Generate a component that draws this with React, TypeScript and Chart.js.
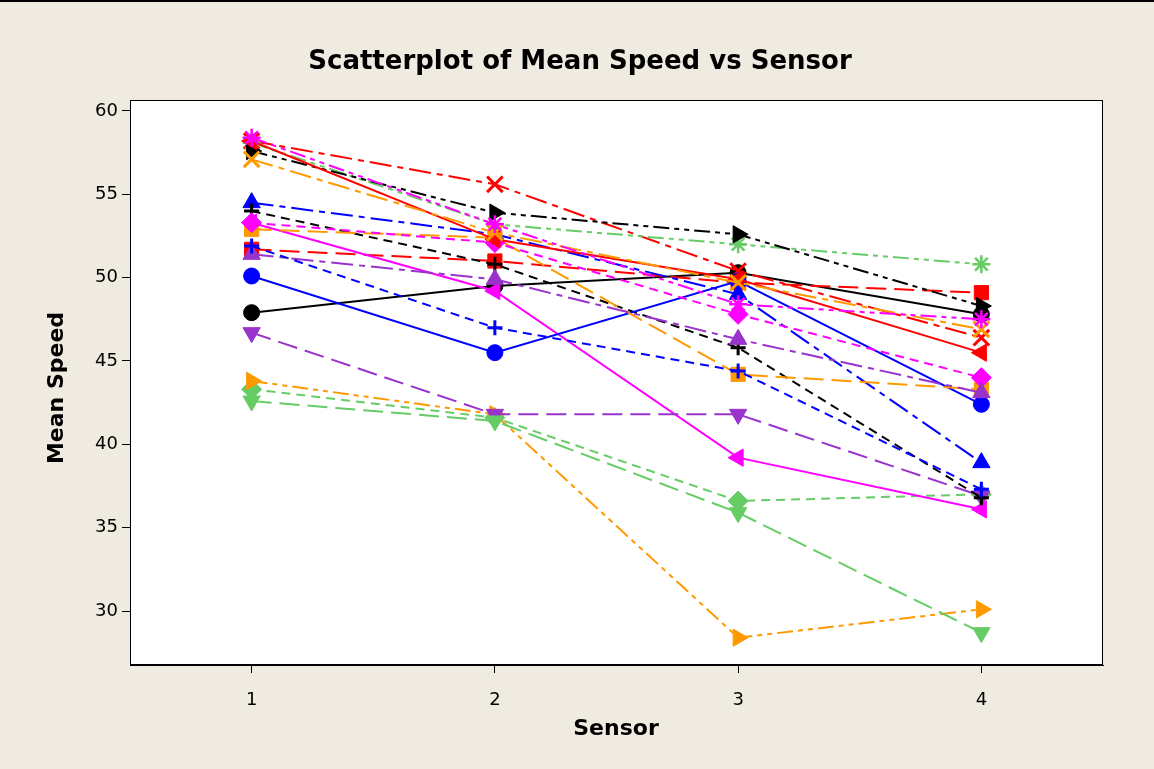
import React, { useEffect, useRef } from "react";
import { Chart, registerables } from "chart.js";

Chart.register(...registerables);

// ---- data ----
const sensors = [1, 2, 3, 4];
const yTickValues = [30, 35, 40, 45, 50, 55, 60];
const xTickValues = [1, 2, 3, 4];

const g01 = [47.9, 49.5, 50.3, 47.8];
const g02 = [51.7, 51.0, 49.7, 49.1];
const g03 = [43.3, 41.6, 36.6, 37.0];
const g04 = [54.5, 52.6, 49.0, 38.9];
const g05 = [43.8, 41.8, 28.4, 30.1];
const g06 = [53.3, 49.2, 39.2, 36.1];
const g07 = [46.7, 41.8, 41.8, 36.9];
const g08 = [54.0, 50.8, 45.8, 36.8];
const g09 = [58.2, 55.6, 50.4, 46.4];
const g10 = [58.1, 53.2, 52.0, 50.8];
const g11 = [50.1, 45.5, 49.8, 42.4];
const g12 = [52.9, 52.4, 44.2, 43.3];
const g13 = [53.3, 52.1, 47.8, 44.0];
const g14 = [51.4, 49.9, 46.3, 43.1];
const g15 = [57.6, 53.9, 52.6, 48.3];
const g16 = [58.2, 52.3, 49.9, 45.5];
const g17 = [42.6, 41.4, 35.9, 28.7];
const g18 = [51.9, 47.0, 44.4, 37.3];
const g19 = [57.1, 52.7, 49.7, 46.9];
const g20 = [58.4, 53.2, 48.4, 47.5];

const groups = [g01, g02, g03, g04, g05, g06, g07, g08, g09, g10, g11, g12, g13, g14, g15, g16, g17, g18, g19, g20];

// ---- style cycles (Minitab-like defaults) ----
const colorCycle = ["#000000", "#FF0000", "#66CC66", "#0000FF", "#FF9900", "#FF00FF", "#9933CC"];
const symbolCycle = ["circle", "square", "diamond", "triUp", "triRight", "triLeft", "triDown", "plus", "x", "asterisk"];
const dashCycle = [[], [20, 8], [9, 6], [22, 6, 6, 6], [16, 5, 5, 5, 5, 5]];

function symbolStyle(sym: string) {
  switch (sym) {
    case "circle": return { pointStyle: "circle", radius: 8, rotation: 0, bw: 1 };
    case "square": return { pointStyle: "rect", radius: 10, rotation: 0, bw: 1 };
    case "diamond": return { pointStyle: "rectRot", radius: 10, rotation: 0, bw: 1 };
    case "triUp": return { pointStyle: "triangle", radius: 10, rotation: 0, bw: 1 };
    case "triRight": return { pointStyle: "triangle", radius: 10, rotation: 90, bw: 1 };
    case "triLeft": return { pointStyle: "triangle", radius: 10, rotation: 270, bw: 1 };
    case "triDown": return { pointStyle: "triangle", radius: 10, rotation: 180, bw: 1 };
    case "plus": return { pointStyle: "cross", radius: 7.5, rotation: 0, bw: 3 };
    case "x": return { pointStyle: "crossRot", radius: 11, rotation: 0, bw: 3 };
    default: return { pointStyle: "star", radius: 9, rotation: 0, bw: 2.5 };
  }
}

const FONT = "'DejaVu Sans', Verdana, sans-serif";

const framePlugin = {
  id: "frame",
  beforeDraw(chart: any) {
    const { ctx, chartArea, width, height } = chart;
    ctx.save();
    ctx.fillStyle = "#EFEBE1";
    ctx.fillRect(0, 0, width, height);
    ctx.fillStyle = "#000000";
    ctx.fillRect(0, 0, width, 2);
    ctx.fillStyle = "#FFFFFF";
    ctx.fillRect(chartArea.left, chartArea.top, chartArea.right - chartArea.left, chartArea.bottom - chartArea.top);
    ctx.restore();
  },
  afterDraw(chart: any) {
    const { ctx, chartArea } = chart;
    ctx.save();
    ctx.strokeStyle = "#000000";
    ctx.lineWidth = 1;
    ctx.strokeRect(chartArea.left + 0.5, chartArea.top + 0.5, chartArea.right - chartArea.left - 1, chartArea.bottom - chartArea.top - 1);
    ctx.fillStyle = "#000000";
    ctx.textAlign = "center";
    ctx.textBaseline = "middle";
    ctx.font = `bold 26px ${FONT}`;
    ctx.fillText("Scatterplot of Mean Speed vs Sensor", 580, 62);
    ctx.font = `bold 22px ${FONT}`;
    ctx.fillText("Sensor", 616, 729);
    ctx.translate(57, 388);
    ctx.rotate(-Math.PI / 2);
    ctx.fillText("Mean Speed", 0, 0);
    ctx.restore();
  },
};

export default function App() {
  const ref = useRef<HTMLCanvasElement | null>(null);

  useEffect(() => {
    if (!ref.current) return;
    const n = groups.length;
    const datasets = groups.map((vals, i) => {
      const color = colorCycle[i % colorCycle.length];
      const s = symbolStyle(symbolCycle[i % symbolCycle.length]);
      return {
        label: `Group ${i + 1}`,
        data: sensors.map((x, k) => ({ x, y: vals[k] })),
        showLine: true,
        borderColor: color,
        backgroundColor: color,
        borderWidth: 2,
        borderDash: dashCycle[i % dashCycle.length],
        pointStyle: s.pointStyle,
        pointRadius: s.radius,
        pointRotation: s.rotation,
        pointBorderWidth: s.bw,
        pointBackgroundColor: color,
        pointBorderColor: color,
        order: n - i,
      };
    });

    const chart = new Chart(ref.current, {
      type: "scatter",
      data: { datasets },
      plugins: [framePlugin],
      options: {
        animation: false,
        responsive: false,
        devicePixelRatio: 1,
        layout: { padding: { top: 100, right: 51, bottom: 0, left: 0 } },
        plugins: { legend: { display: false }, tooltip: { enabled: false }, title: { display: false } },
        scales: {
          x: {
            type: "linear",
            min: 0.5,
            max: 4.5,
            afterFit: (scale: any) => { scale.height = 104; },
            afterBuildTicks: (scale: any) => { scale.ticks = xTickValues.map((v) => ({ value: v })); },
            grid: { drawOnChartArea: false, drawTicks: true, tickLength: 8, color: "#000000", lineWidth: 1 },
            border: { display: true, color: "#000000" },
            ticks: { color: "#000000", font: { family: FONT, size: 18 }, padding: 17, maxRotation: 0 },
          },
          y: {
            type: "linear",
            min: 26.76,
            max: 60.66,
            afterFit: (scale: any) => { scale.width = 130; },
            afterBuildTicks: (scale: any) => { scale.ticks = yTickValues.map((v) => ({ value: v })); },
            grid: { drawOnChartArea: false, drawTicks: true, tickLength: 8, color: "#000000", lineWidth: 1 },
            border: { display: true, color: "#000000" },
            ticks: { color: "#000000", font: { family: FONT, size: 18 }, padding: 4 },
          },
        },
      },
    } as any);
    return () => chart.destroy();
  }, []);

  return (
    <div style={{ position: "absolute", left: 0, top: 0, width: 1154, height: 769 }}>
      <canvas ref={ref} width={1154} height={769} style={{ display: "block", width: 1154, height: 769 }} />
    </div>
  );
}
